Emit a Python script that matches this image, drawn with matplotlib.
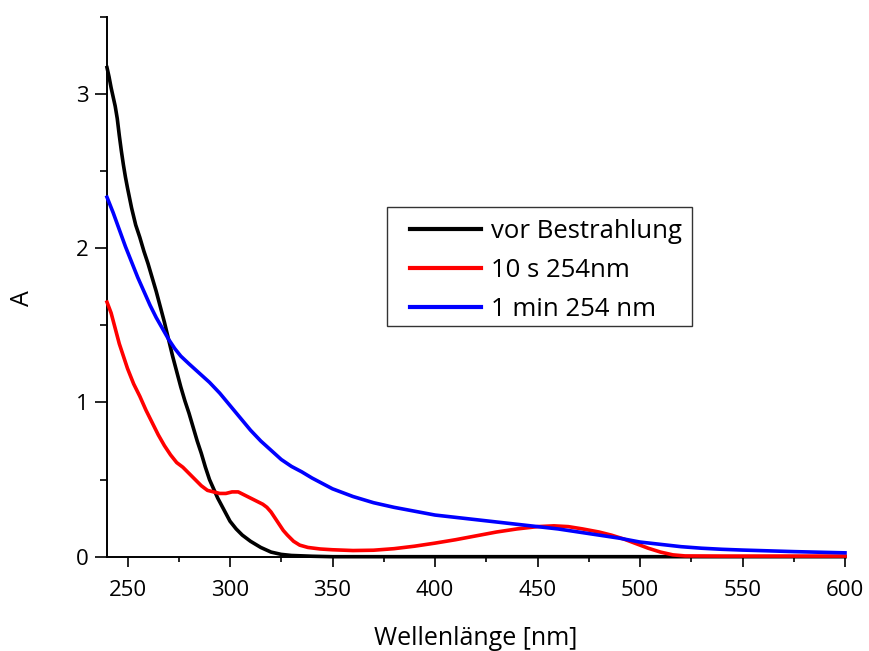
import numpy as np
import matplotlib.pyplot as plt
from matplotlib.ticker import MultipleLocator
from matplotlib.patches import Rectangle

# vor Bestrahlung
wl_black = [240, 241, 242, 243, 244, 245, 246, 247, 248, 249, 250, 252, 254, 256, 258, 260,
            262, 264, 266, 268, 270, 272, 274, 276, 278, 280, 282, 284, 286, 288, 290, 292,
            294, 296, 298, 300, 303, 306, 310, 315, 320, 325, 330, 340, 350, 400, 500, 600]
a_black = [3.17, 3.11, 3.04, 2.98, 2.92, 2.84, 2.73, 2.63, 2.54, 2.46, 2.39, 2.26, 2.15, 2.07, 1.98, 1.90,
           1.81, 1.72, 1.62, 1.52, 1.41, 1.30, 1.20, 1.10, 1.01, 0.93, 0.84, 0.75, 0.67, 0.58, 0.50, 0.44,
           0.38, 0.33, 0.28, 0.23, 0.18, 0.14, 0.10, 0.06, 0.03, 0.015, 0.008, 0.003, 0.0, 0.0, 0.0, 0.0]

# 10 s 254nm
wl_red = [240, 242, 244, 246, 248, 250, 253, 256, 259, 262, 265, 268, 271, 274, 277, 280,
          283, 286, 289, 292, 295, 298, 301, 304, 307, 310, 313, 316, 318, 320, 322, 324,
          326, 328, 331, 334, 338, 344, 350, 360, 370, 380, 390, 400, 410, 420, 430, 440,
          450, 458, 465, 472, 480, 486, 492, 498, 504, 510, 516, 522, 540, 600]
a_red = [1.65, 1.58, 1.48, 1.38, 1.30, 1.22, 1.12, 1.04, 0.95, 0.87, 0.79, 0.72, 0.66, 0.61, 0.58, 0.54,
         0.50, 0.46, 0.43, 0.42, 0.41, 0.41, 0.42, 0.42, 0.40, 0.38, 0.36, 0.34, 0.32, 0.29, 0.25, 0.21,
         0.17, 0.14, 0.10, 0.075, 0.06, 0.05, 0.045, 0.04, 0.042, 0.052, 0.068, 0.088, 0.11, 0.135, 0.16, 0.18,
         0.195, 0.20, 0.195, 0.18, 0.16, 0.14, 0.115, 0.085, 0.055, 0.03, 0.012, 0.005, 0.004, 0.004]

# 1 min 254 nm
wl_blue = [240, 243, 246, 249, 252, 255, 258, 261, 264, 267, 270, 273, 276, 280, 285, 290,
           295, 300, 305, 310, 315, 320, 325, 330, 335, 340, 345, 350, 360, 370, 380, 390,
           400, 410, 420, 430, 440, 450, 460, 470, 480, 490, 500, 510, 520, 530, 540, 550,
           575, 600]
a_blue = [2.33, 2.23, 2.12, 2.01, 1.91, 1.81, 1.72, 1.63, 1.55, 1.48, 1.41, 1.35, 1.30, 1.25, 1.19, 1.13,
          1.06, 0.98, 0.90, 0.82, 0.75, 0.69, 0.63, 0.585, 0.55, 0.51, 0.475, 0.44, 0.39, 0.35, 0.32, 0.295,
          0.27, 0.255, 0.24, 0.225, 0.21, 0.195, 0.18, 0.16, 0.14, 0.12, 0.095, 0.08, 0.065, 0.055, 0.048, 0.043,
          0.033, 0.025]

plt.rcParams['font.family'] = ['Open Sans', 'DejaVu Sans']

fig = plt.figure(figsize=(8.69, 6.51), dpi=100)
ax = fig.add_axes([107 / 869, 1 - 556.7 / 651, 738 / 869, 540 / 651])

ax.plot(wl_black, a_black, color='black', lw=2.6, label='vor Bestrahlung', clip_on=False, zorder=3)
ax.plot(wl_red, a_red, color='#ff0000', lw=2.6, label='10 s 254nm', clip_on=False, zorder=3)
ax.plot(wl_blue, a_blue, color='#0000ff', lw=2.6, label='1 min 254 nm', clip_on=False, zorder=3)

ax.set_xlim(240, 600)
ax.set_ylim(0, 3.5)
ax.xaxis.set_major_locator(MultipleLocator(50))
ax.xaxis.set_minor_locator(MultipleLocator(25))
ax.yaxis.set_major_locator(MultipleLocator(1))
ax.yaxis.set_minor_locator(MultipleLocator(0.5))

for s in ['top', 'right']:
    ax.spines[s].set_visible(False)
for s in ['left', 'bottom']:
    ax.spines[s].set_linewidth(1.4)

ax.tick_params(axis='x', which='major', direction='out', length=7, width=1.2, labelsize=16, pad=10)
ax.tick_params(axis='x', which='minor', direction='out', length=3.6, width=1.2)
ax.tick_params(axis='y', which='major', direction='out', length=8.5, width=1.2, labelsize=16, pad=5)
ax.tick_params(axis='y', which='minor', direction='out', length=5, width=1.2)

ax.set_xlabel('Wellenlänge [nm]', fontsize=18)
ax.set_ylabel('A', fontsize=18)
ax.xaxis.set_label_coords(0.5, -0.128)
ax.yaxis.set_label_coords(-0.097, 0.479)

# legend box drawn separately so the inner padding matches
ax.add_patch(Rectangle((0.379, 0.4272), 0.7923 - 0.379, 0.648 - 0.4272, transform=ax.transAxes,
                       facecolor='white', edgecolor='#333333', lw=1.0, zorder=4))
leg = ax.legend(loc='upper left', bbox_to_anchor=(0.4106, 0.625), borderaxespad=0,
                fontsize=18.5, frameon=False, handlelength=2.75,
                handletextpad=0.4, labelspacing=0.55, borderpad=0)
leg.set_zorder(5)
for line in leg.get_lines():
    line.set_linewidth(3)

fig.savefig('out.png', dpi=100)
